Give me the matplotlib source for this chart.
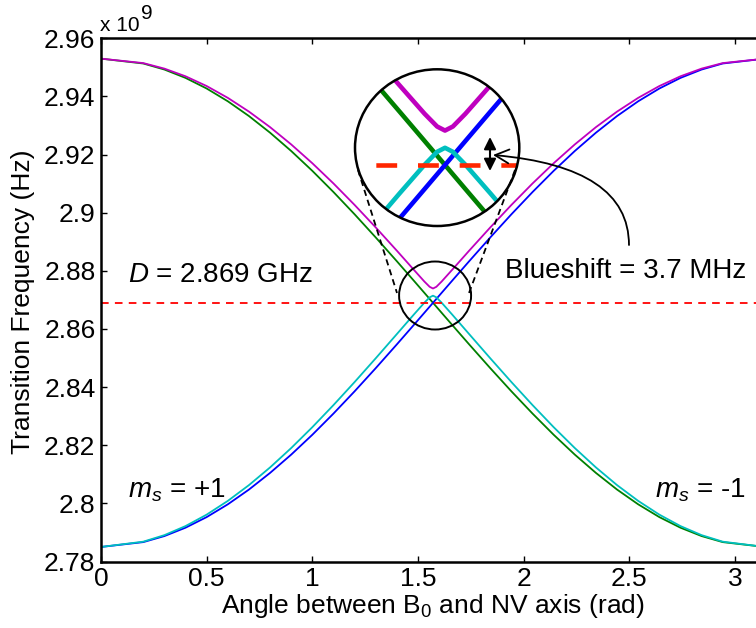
import numpy as np
import matplotlib
matplotlib.use('Agg')
import matplotlib.pyplot as plt
from matplotlib.patches import Ellipse, FancyArrowPatch
from matplotlib.lines import Line2D

# angle between B0 and the NV axis (rad)
angle = [0, 0.2, 0.3, 0.4, 0.5, 0.6, 0.7, 0.8, 0.9, 1.0, 1.1, 1.2, 1.3, 1.4,
         1.48, 1.53, 1.555, 1.5708, 1.5866, 1.6116, 1.6616, 1.7416, 1.8416,
         1.9416, 2.0416, 2.1416, 2.2416, 2.3416, 2.4416, 2.5416, 2.6416,
         2.7416, 2.8416, 2.9416, 3.1416]

# transition frequencies (GHz)
f_green = [2.953, 2.95133, 2.94925, 2.94637, 2.94272, 2.93833, 2.93325, 2.92752,
           2.92122, 2.91439, 2.90710, 2.89944, 2.89147, 2.88328, 2.87662, 2.87243,
           2.87033, 2.869, 2.86767, 2.86557, 2.86138, 2.85472, 2.84653, 2.83856,
           2.83090, 2.82361, 2.81678, 2.81048, 2.80475, 2.79967, 2.79528, 2.79163,
           2.78875, 2.78667, 2.785]
f_blue = [2.785, 2.78667, 2.78875, 2.79163, 2.79528, 2.79967, 2.80475, 2.81048,
          2.81678, 2.82361, 2.83090, 2.83856, 2.84653, 2.85472, 2.86138, 2.86557,
          2.86767, 2.869, 2.87033, 2.87243, 2.87662, 2.88328, 2.89147, 2.89944,
          2.90710, 2.91439, 2.92122, 2.92752, 2.93325, 2.93833, 2.94272, 2.94637,
          2.94925, 2.95133, 2.953]
f_magenta = [2.953, 2.95147, 2.94957, 2.94693, 2.94357, 2.93951, 2.93478, 2.92943,
             2.92348, 2.91701, 2.91005, 2.90266, 2.89492, 2.88691, 2.88037, 2.87632,
             2.87450, 2.87392, 2.87450, 2.87632, 2.88037, 2.88691, 2.89492, 2.90266,
             2.91005, 2.91701, 2.92348, 2.92943, 2.93478, 2.93951, 2.94357, 2.94693,
             2.94957, 2.95147, 2.953]
f_cyan = [2.785, 2.78682, 2.78907, 2.79219, 2.79613, 2.80085, 2.80628, 2.81237,
          2.81904, 2.82622, 2.83382, 2.84175, 2.84993, 2.85826, 2.86495, 2.86904,
          2.87088, 2.87146, 2.87088, 2.86904, 2.86495, 2.85826, 2.84993, 2.84175,
          2.83382, 2.82622, 2.81904, 2.81237, 2.80628, 2.80085, 2.79613, 2.79219,
          2.78907, 2.78682, 2.785]
D_GHZ = 2.869

x_ticks = [0, 0.5, 1, 1.5, 2, 2.5, 3]
x_tick_labels = ['0', '0.5', '1', '1.5', '2', '2.5', '3']
y_ticks = [2.78, 2.80, 2.82, 2.84, 2.86, 2.88, 2.90, 2.92, 2.94, 2.96]
y_tick_labels = ['2.78', '2.8', '2.82', '2.84', '2.86', '2.88', '2.9', '2.92', '2.94', '2.96']

plt.rcParams['font.family'] = ['Liberation Sans', 'DejaVu Sans']
plt.rcParams['mathtext.fontset'] = 'custom'
plt.rcParams['mathtext.rm'] = 'Liberation Sans'
plt.rcParams['mathtext.it'] = 'Liberation Sans:italic'
plt.rcParams['mathtext.default'] = 'regular'
plt.rcParams['lines.scale_dashes'] = False

W, H = 756, 628
fig = plt.figure(figsize=(W / 100, H / 100), dpi=100)


def fx(px):
    return px / W


def fy(py):
    return 1 - py / H


GREEN = (0, 0.5, 0)
BLUE = (0, 0, 1)
MAGENTA = (0.75, 0, 0.75)
CYAN = (0, 0.75, 0.75)

x = np.array(angle)
series = [(f_green, GREEN), (f_blue, BLUE), (f_magenta, MAGENTA), (f_cyan, CYAN)]

# main axes (right edge runs off the canvas, like the original)
ax = fig.add_axes([fx(101), fy(561.5), (765 - 101) / W, (561.5 - 38.3) / H])
for vals, c in series:
    ax.plot(x, np.array(vals) * 1e9, color=c, lw=1.3)
ax.axhline(D_GHZ * 1e9, color='r', lw=1.3, dashes=(5.5, 4.5))
ax.set_xlim(0, np.pi)
ax.set_ylim(2.78e9, 2.96e9)
ax.set_xticks(x_ticks)
ax.set_xticklabels(x_tick_labels)
ax.set_yticks(np.array(y_ticks) * 1e9)
ax.set_yticklabels(y_tick_labels)
ax.tick_params(direction='in', top=True, right=True, length=4, width=1, labelsize=19)
ax.tick_params(axis='x', pad=4)
ax.tick_params(axis='y', pad=4)
for s in ax.spines.values():
    s.set_linewidth(1.8)
ax.set_xlabel('Angle between B$_0$ and NV axis (rad)', fontsize=19, labelpad=1)

fig.text(fx(23), fy(301.7), 'Transition Frequency (Hz)', rotation=90,
         ha='center', va='center', fontsize=19)
fig.text(fx(100), fy(31), 'x 10', fontsize=15, va='baseline')
fig.text(fx(140.5), fy(19), '9', fontsize=15, va='baseline')

ax.text(0.13, 2.8762e9, r'$\mathit{D}$ = 2.869 GHz', fontsize=20, va='baseline')
ax.text(1.91, 2.8775e9, 'Blueshift = 3.7 MHz', fontsize=20, va='baseline')
ax.text(0.13, 2.8019e9, r'$\mathit{m_s}$ = +1', fontsize=20, va='baseline')
ax.text(2.62, 2.8019e9, r'$\mathit{m_s}$ = -1', fontsize=20, va='baseline')

# small circle round the crossing
ax.add_patch(Ellipse((1.5807, 2.87151e9), 0.3407, 0.02339e9, fill=False,
                     ec='k', lw=1.4, zorder=5))

# dashed connectors
fig.add_artist(Line2D([fx(358), fx(397)], [fy(170), fy(293)], color='k',
                      lw=1.3, dashes=(4.5, 3)))
fig.add_artist(Line2D([fx(515), fx(469)], [fy(170), fy(293)], color='k',
                      lw=1.3, dashes=(4.5, 3)))

# magnified inset
axin = fig.add_axes([fx(355), fy(226), 164.3 / W, 156.7 / H])
axin.set_xlim(1.3908, 1.7194)
axin.set_ylim(2.86029e9, 2.88267e9)
axin.axis('off')
bg = Ellipse((0.5, 0.5), 1, 1, transform=axin.transAxes, fc='white', ec='none', zorder=0)
axin.add_patch(bg)
for vals, c in series:
    ln, = axin.plot(x, np.array(vals) * 1e9, color=c, lw=3.3, solid_joinstyle='round')
    ln.set_clip_path(bg)
red = axin.axhline(D_GHZ * 1e9, color=(1, 0.15, 0), lw=3.3, linestyle=(15, (15, 15)))
red.set_clip_path(bg)
axin.add_patch(Ellipse((0.5, 0.5), 1, 1, transform=axin.transAxes, fill=False,
                       ec='k', lw=1.8, zorder=5, clip_on=False))

# arrows
fig.add_artist(FancyArrowPatch(
    (fx(490), fy(171)), (fx(490), fy(137)), transform=fig.transFigure,
    arrowstyle='<|-|>', mutation_scale=18, lw=1.5, color='k',
    shrinkA=0, shrinkB=0))
fig.add_artist(FancyArrowPatch(
    (fx(629), fy(245)), (fx(493), fy(155)), transform=fig.transFigure,
    arrowstyle='->', mutation_scale=25, lw=1.3, color='k',
    connectionstyle='angle3,angleA=90,angleB=-5', shrinkA=0, shrinkB=0))

fig.savefig('out.png', dpi=100)
